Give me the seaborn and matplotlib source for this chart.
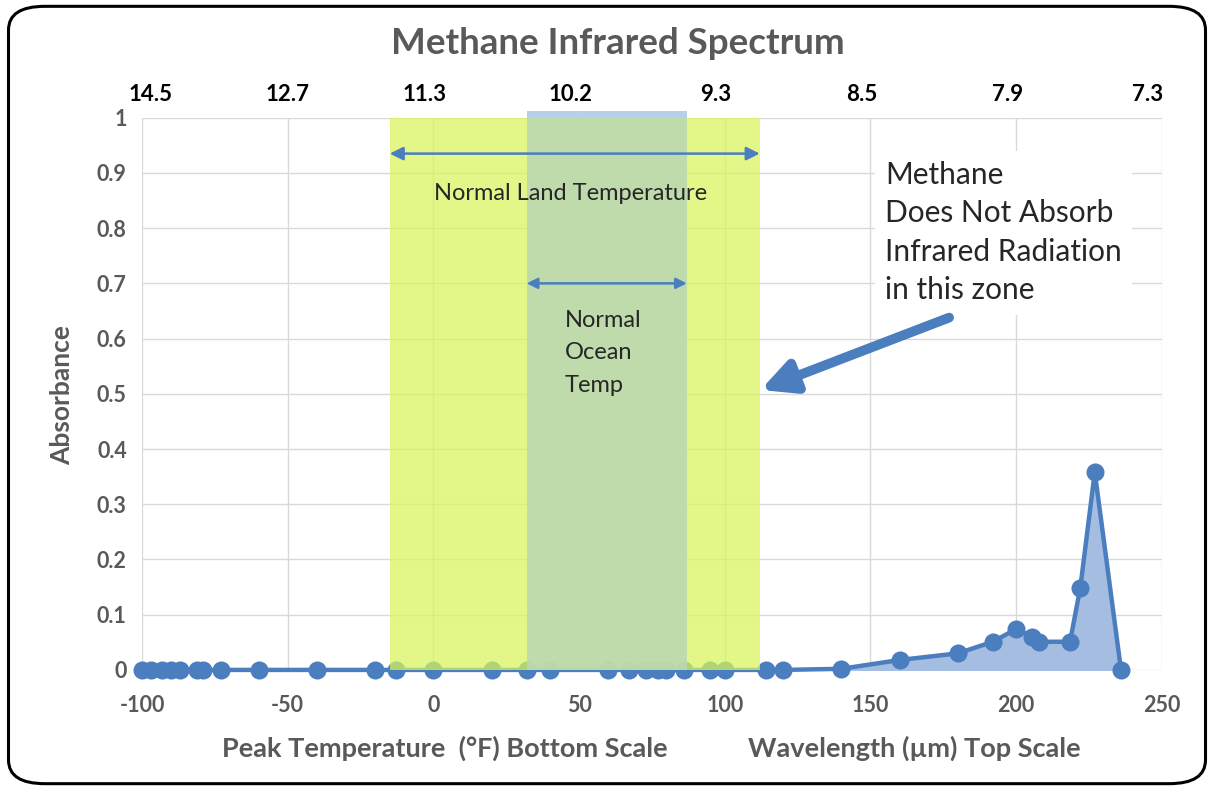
import seaborn as sns
import matplotlib.pyplot as plt
import pandas as pd
from matplotlib.patches import FancyBboxPatch

# Peak temperature (F) and absorbance
temps = [-100, -97, -93, -90, -87, -81, -79, -73, -60, -40, -20, -13, 0, 20, 32, 40,
         60, 67, 73, 77, 80, 86, 95, 100, 114, 120,
         140, 160, 180, 192, 200, 205.5, 208, 218.5, 222, 227, 236]
absorb = [0] * 26 + [0.002, 0.018, 0.03, 0.051, 0.074, 0.06, 0.051, 0.051, 0.148, 0.358, 0.0]

# wavelength labels on the top scale
top_pos = [-97, -50, -3, 47, 97, 147, 197, 245]
top_labels = ['14.5', '12.7', '11.3', '10.2', '9.3', '8.5', '7.9', '7.3']

land_zone = (-15, 112)
ocean_zone = (32, 87)

data = pd.DataFrame({'Temp': temps, 'Absorbance': absorb})

sns.set_style('white')
plt.rcParams['font.family'] = ['Lato', 'DejaVu Sans']
plt.rcParams['axes.unicode_minus'] = False

blue = '#4a7ebf'
grey = '#595959'

fig = plt.figure(figsize=(12.14, 7.9), dpi=100)
ax = fig.add_axes([0.117, 0.152, 0.840, 0.699])

ax.fill_between(temps, absorb, color='#a4bde0', zorder=1)
sns.lineplot(x='Temp', y='Absorbance', data=data, ax=ax, color=blue, lw=3.2,
             marker='o', markersize=13, markeredgewidth=0, zorder=2, clip_on=False)

# shaded temperature zones (drawn over the line like the original)
ax.axvspan(*land_zone, ymin=0, ymax=1.0, color='#d9f55a', alpha=0.72, lw=0, zorder=3)
ax.axvspan(*ocean_zone, ymin=0, ymax=1.012, color='#bcd8b0', alpha=0.9, lw=0,
           zorder=4, clip_on=False)
ax.axvspan(*ocean_zone, ymin=1.0, ymax=1.012, color='#b8cfe8', lw=0, zorder=4, clip_on=False)

ax.set_xlim(-100, 250)
ax.set_ylim(0, 1)
ax.set_xticks(range(-100, 251, 50))
ax.set_yticks([i / 10 for i in range(11)])
ax.set_yticklabels(['0'] + ['%.1f' % (i / 10) for i in range(1, 10)] + ['1'])
ax.grid(True, color='#d9d9d9', lw=1)
ax.set_axisbelow(True)
for s in ax.spines.values():
    s.set_visible(False)
ax.tick_params(axis='both', length=0, labelsize=15.5, labelcolor=grey)
ax.tick_params(axis='x', pad=18)
ax.tick_params(axis='y', pad=11)
for lab in ax.get_xticklabels() + ax.get_yticklabels():
    lab.set_fontweight('bold')
ax.set_xlabel('')
ax.set_ylabel('')

# top wavelength scale
top = ax.twiny()
top.set_xlim(ax.get_xlim())
top.set_xticks(top_pos)
top.set_xticklabels(top_labels, fontsize=16, fontweight='bold', color='black')
top.tick_params(axis='x', length=0, pad=9)
for s in top.spines.values():
    s.set_visible(False)

# zone arrows and labels
ax.annotate('', xy=(land_zone[0], 0.935), xytext=(land_zone[1], 0.935),
            arrowprops=dict(arrowstyle='<|-|>', color=blue, lw=1.8, mutation_scale=20,
                            shrinkA=0, shrinkB=0), zorder=6)
ax.text(47, 0.862, 'Normal Land Temperature', ha='center', va='center', fontsize=17, zorder=6)
ax.annotate('', xy=(ocean_zone[0], 0.70), xytext=(ocean_zone[1], 0.70),
            arrowprops=dict(arrowstyle='<|-|>', color=blue, lw=1.8, mutation_scale=16,
                            shrinkA=0, shrinkB=0), zorder=6)
ax.text(45, 0.574, 'Normal\nOcean\nTemp', ha='left', va='center', fontsize=17,
        linespacing=1.65, zorder=6)

ax.text(155, 0.792, 'Methane\nDoes Not Absorb\nInfrared Radiation\nin this zone',
        ha='left', va='center', fontsize=21.5, linespacing=1.45, zorder=6,
        bbox=dict(boxstyle='square,pad=0.35', fc='white', ec='none'))
ax.annotate('', xy=(112.3, 0.507), xytext=(177, 0.638),
            arrowprops=dict(arrowstyle='-|>,head_width=0.7,head_length=1.4', color=blue,
                            lw=7, mutation_scale=14, shrinkA=0, shrinkB=0), zorder=7)

fig.text(0.509, 0.945, 'Methane Infrared Spectrum', ha='center', va='center',
         fontsize=26.5, fontweight='bold', color=grey)
fig.text(0.051, 0.5, 'Absorbance', ha='center', va='center', rotation=90,
         fontsize=19, fontweight='bold', color=grey)
fig.text(0.183, 0.053, 'Peak Temperature  (\u00b0F) Bottom Scale', ha='left', va='center',
         fontsize=19.5, fontweight='bold', color=grey)
fig.text(0.616, 0.053, 'Wavelength (\u00b5m) Top Scale', ha='left', va='center',
         fontsize=19.5, fontweight='bold', color=grey)

# rounded outer frame
fig.patches.append(FancyBboxPatch((0.007, 0.008), 0.986, 0.984,
                                  boxstyle='round,pad=0,rounding_size=0.03',
                                  transform=fig.transFigure, fc='none', ec='black', lw=2.2))

plt.savefig('out.png', dpi=100)
